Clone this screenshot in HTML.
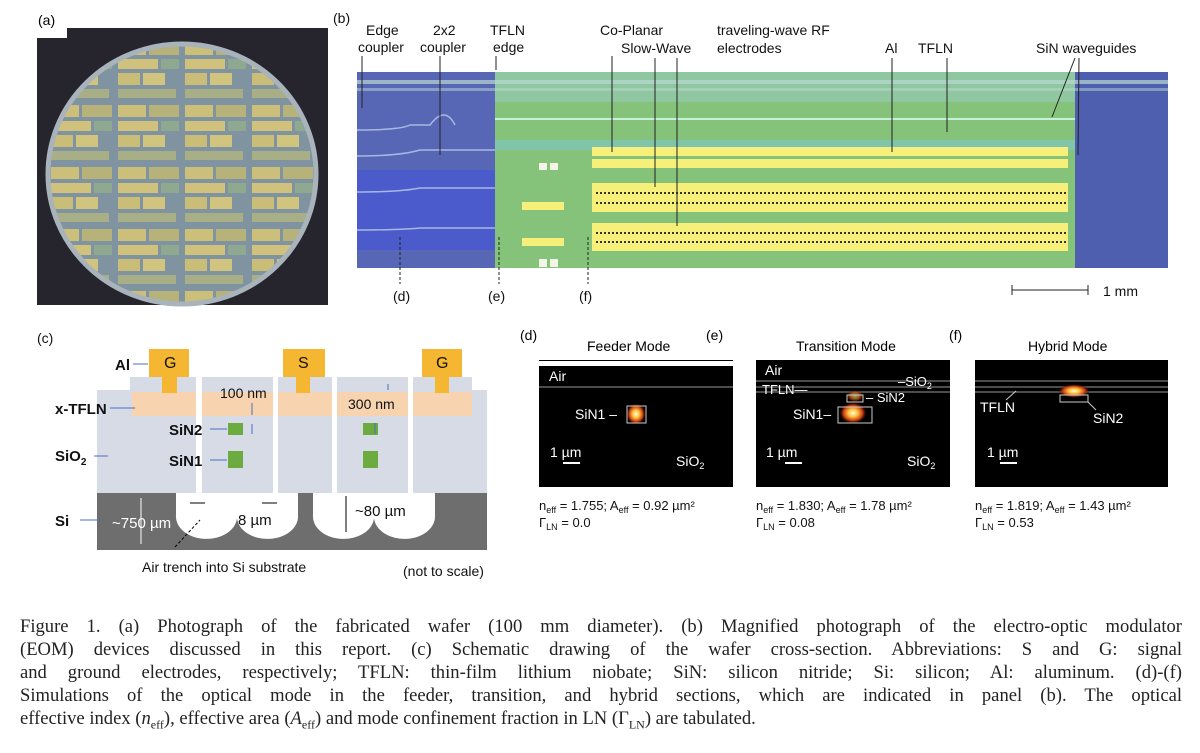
<!DOCTYPE html>
<html><head><meta charset="utf-8">
<style>
html,body{margin:0;padding:0;background:#fff;}
body{width:1200px;height:753px;overflow:hidden;position:relative;font-family:"Liberation Sans",sans-serif;}
svg{position:absolute;left:0;top:0;}
.cap{position:absolute;left:20px;width:1162px;font-family:"Liberation Serif",serif;font-size:18.6px;line-height:23px;color:#222;}
.j{text-align:justify;text-align-last:justify;white-space:nowrap;}
</style></head><body>
<svg width="1200" height="753" viewBox="0 0 1200 753">
<defs>
<pattern id="chips" x="48" y="40" width="67" height="62" patternUnits="userSpaceOnUse">
<rect width="67" height="62" fill="#7f93a0"/>
<rect x="3" y="3" width="28" height="12" fill="#cbbf7a"/>
<rect x="34" y="3" width="30" height="12" fill="#b7b27a"/>
<rect x="3" y="19" width="40" height="10" fill="#d0c27c"/>
<rect x="46" y="19" width="18" height="10" fill="#8fa890"/>
<rect x="3" y="33" width="22" height="12" fill="#c9bd78"/>
<rect x="28" y="33" width="22" height="12" fill="#d1c47e"/>
<rect x="3" y="49" width="58" height="9" fill="#a8ae86"/>
</pattern>
<radialGradient id="glow"><stop offset="0" stop-color="#fffbe0"/><stop offset="0.35" stop-color="#ffc23a"/><stop offset="0.7" stop-color="#c43a10"/><stop offset="1" stop-color="#1a0000" stop-opacity="0"/></radialGradient>
</defs>

<g>
<text x="38" y="25" font-size="14">(a)</text>
<rect x="37" y="28" width="291" height="277" fill="#26252e"/>
<rect x="37" y="28" width="30" height="10" fill="#fff"/>
<ellipse cx="182" cy="174" rx="134" ry="130" fill="url(#chips)" stroke="#a9b3bb" stroke-width="5"/>
</g>

<g font-size="14" fill="#111">
<text x="333" y="23">(b)</text>
<rect x="357" y="72" width="811" height="196" fill="#4a5ea8"/>
<rect x="357" y="72" width="138" height="196" fill="#5866b6"/>
<rect x="357" y="170" width="138" height="80" fill="#3f4fe0" opacity="0.5"/>
<rect x="495" y="72" width="580" height="196" fill="#86c37a"/>
<rect x="495" y="72" width="580" height="30" fill="#8fc8a0"/>
<rect x="495" y="140" width="580" height="10" fill="#7dc6c8" opacity="0.6"/>
<rect x="1075" y="72" width="93" height="196" fill="#4f5fb0"/>
<rect x="357" y="80" width="811" height="4" fill="#b9d7d2" opacity="0.7"/>
<rect x="357" y="88" width="811" height="3" fill="#b9d7d2" opacity="0.5"/>
<rect x="495" y="118" width="580" height="2" fill="#c8f0d8"/>
<g fill="#f6f07a">
<rect x="592" y="147" width="476" height="9"/>
<rect x="592" y="159" width="476" height="9"/>
<rect x="592" y="183" width="476" height="29"/>
<rect x="592" y="223" width="476" height="28"/>
<rect x="522" y="202" width="42" height="8"/>
<rect x="522" y="238" width="42" height="8"/>
</g>
<g stroke="#333" stroke-width="2" stroke-dasharray="2 2">
<line x1="596" y1="193" x2="1066" y2="193"/><line x1="596" y1="203" x2="1066" y2="203"/>
<line x1="596" y1="233" x2="1066" y2="233"/><line x1="596" y1="242" x2="1066" y2="242"/>
</g>
<rect x="539" y="163" width="8" height="7" fill="#f4f4e8"/><rect x="550" y="163" width="8" height="7" fill="#f4f4e8"/>
<rect x="539" y="259" width="8" height="8" fill="#f4f4e8"/><rect x="550" y="259" width="8" height="8" fill="#f4f4e8"/>
<g fill="none" stroke="#a8b8e0" stroke-width="1.5">
<path d="M357 130 Q400 130 410 125 L430 125 Q445 105 455 125"/>
<path d="M357 156 Q400 156 420 150 L495 150"/>
<path d="M357 192 Q400 192 420 188 L495 188"/>
<path d="M357 230 Q400 230 420 228 L495 228"/>
</g>
<text x="366" y="35">Edge</text><text x="358" y="52">coupler</text>
<text x="433" y="35">2x2</text><text x="420" y="52">coupler</text>
<text x="490" y="35">TFLN</text><text x="493" y="52">edge</text>
<text x="600" y="35">Co-Planar</text><text x="621" y="53">Slow-Wave</text>
<text x="717" y="35">traveling-wave RF</text><text x="717" y="53">electrodes</text>
<text x="885" y="53">Al</text><text x="918" y="53">TFLN</text><text x="1036" y="53">SiN waveguides</text>
<g stroke="#222" stroke-width="1">
<line x1="362" y1="56" x2="362" y2="108"/><line x1="440" y1="56" x2="440" y2="155"/>
<line x1="496" y1="56" x2="496" y2="70"/><line x1="612" y1="56" x2="612" y2="152"/>
<line x1="655" y1="58" x2="655" y2="187"/><line x1="677" y1="58" x2="677" y2="226"/>
<line x1="892" y1="58" x2="892" y2="152"/><line x1="947" y1="58" x2="947" y2="132"/>
<line x1="1075" y1="58" x2="1052" y2="117"/><line x1="1079" y1="58" x2="1078" y2="155"/>
<line x1="1012" y1="290" x2="1088" y2="290"/><line x1="1012" y1="285" x2="1012" y2="295"/><line x1="1088" y1="285" x2="1088" y2="295"/>
</g>
<g stroke="#222" stroke-width="1" stroke-dasharray="3 2">
<line x1="400" y1="237" x2="400" y2="284"/><line x1="499" y1="237" x2="499" y2="284"/><line x1="588" y1="237" x2="588" y2="284"/>
</g>
<text x="393" y="301">(d)</text><text x="488" y="301">(e)</text><text x="579" y="301">(f)</text>
<text x="1103" y="296">1 mm</text>
</g>

<g font-size="14" fill="#111">
<text x="37" y="343">(c)</text>
<g fill="#d6dbe5">
<rect x="97" y="390" width="99" height="103"/><rect x="130" y="377" width="66" height="20"/>
<rect x="202" y="377" width="71" height="116"/>
<rect x="278" y="377" width="54" height="116"/>
<rect x="337" y="377" width="71" height="116"/>
<rect x="413" y="377" width="59" height="116"/><rect x="472" y="390" width="15" height="103"/>
</g>
<g fill="#f8d3b0">
<rect x="132" y="392" width="64" height="24"/><rect x="202" y="392" width="71" height="24"/>
<rect x="278" y="392" width="54" height="24"/><rect x="337" y="392" width="71" height="24"/>
<rect x="413" y="392" width="59" height="24"/>
</g>
<g fill="#f5b731">
<rect x="149" y="349" width="40" height="28"/><rect x="162" y="377" width="15" height="16"/>
<rect x="283" y="349" width="42" height="28"/><rect x="296" y="377" width="14" height="16"/>
<rect x="422" y="349" width="40" height="28"/><rect x="435" y="377" width="14" height="16"/>
</g>
<g fill="#6cab3f">
<rect x="228" y="423" width="15" height="12"/><rect x="228" y="451" width="15" height="17"/>
<rect x="363" y="423" width="15" height="12"/><rect x="363" y="451" width="15" height="17"/>
</g>
<path d="M97 493 H176 V515 A30 22 0 0 0 237 518 A30 22 0 0 0 298 515 V493 H313 V515 A30 22 0 0 0 374 518 A30 22 0 0 0 435 515 V493 H487 V550 H97 Z" fill="#6e6e6e"/>
<text x="164" y="368" font-size="16">G</text><text x="298" y="368" font-size="16">S</text><text x="436" y="368" font-size="16">G</text>
<g font-weight="bold" font-size="15">
<text x="115" y="370">Al</text><text x="55" y="414">x-TFLN</text><text x="169" y="435">SiN2</text>
<text x="169" y="466">SiN1</text><text x="55" y="461">SiO<tspan font-size="10" dy="4">2</tspan></text><text x="55" y="526">Si</text>
</g>
<g stroke="#4a6fc8" stroke-width="1">
<line x1="133" y1="364" x2="148" y2="364"/><line x1="110" y1="408" x2="135" y2="408"/>
<line x1="210" y1="429" x2="227" y2="429"/><line x1="210" y1="460" x2="227" y2="460"/>
<line x1="94" y1="456" x2="108" y2="456"/><line x1="80" y1="520" x2="100" y2="520"/>
<line x1="252" y1="403" x2="252" y2="415"/><line x1="252" y1="424" x2="252" y2="434"/>
<line x1="388" y1="384" x2="388" y2="390"/><line x1="375" y1="423" x2="375" y2="434"/>
</g>
<text x="220" y="398">100 nm</text><text x="348" y="409">300 nm</text>
<g stroke="#000" stroke-width="1"><line x1="190" y1="503" x2="205" y2="503"/><line x1="262" y1="503" x2="277" y2="503"/>
<line x1="346" y1="496" x2="346" y2="532"/><line x1="141" y1="498" x2="141" y2="544" stroke="#fff"/></g>
<text x="112" y="528" fill="#fff" font-size="15">~750 µm</text>
<text x="238" y="525" font-size="15">8 µm</text><text x="355" y="516" font-size="15">~80 µm</text>
<line x1="175" y1="547" x2="200" y2="520" stroke="#000" stroke-dasharray="3 2"/>
<text x="142" y="572" font-size="14">Air trench into Si substrate</text>
<text x="403" y="576" font-size="14">(not to scale)</text>
</g>

<g font-size="14">
<text x="520" y="340">(d)</text><text x="706" y="340">(e)</text><text x="949" y="340">(f)</text>
<text x="587" y="351">Feeder Mode</text><text x="796" y="351">Transition Mode</text><text x="1028" y="351">Hybrid Mode</text>
<g>
<rect x="539" y="360" width="194" height="127" fill="#000"/>
<rect x="539" y="361" width="194" height="5" fill="#fff"/>
<line x1="539" y1="387" x2="733" y2="387" stroke="#999"/>
<ellipse cx="636" cy="414" rx="10" ry="11" fill="url(#glow)"/>
<rect x="627" y="406" width="19" height="17" fill="none" stroke="#ccc"/>
<g fill="#fff"><text x="549" y="381">Air</text><text x="575" y="419">SiN1 –</text>
<text x="550" y="457">1 µm</text><rect x="563" y="462" width="17" height="2"/><text x="676" y="466">SiO<tspan font-size="9" dy="3">2</tspan></text></g>
</g>
<g>
<rect x="756" y="360" width="194" height="127" fill="#000"/>
<g stroke="#999"><line x1="756" y1="381" x2="950" y2="381"/><line x1="756" y1="387" x2="950" y2="387"/><line x1="756" y1="392" x2="950" y2="392"/></g>
<ellipse cx="853" cy="413" rx="14" ry="11" fill="url(#glow)"/>
<ellipse cx="855" cy="396" rx="9" ry="6" fill="url(#glow)" opacity="0.6"/>
<rect x="847" y="395" width="16" height="7" fill="none" stroke="#ccc"/>
<rect x="838" y="407" width="34" height="16" fill="none" stroke="#ccc"/>
<g fill="#fff" font-size="13"><text x="765" y="375" font-size="14">Air</text><text x="762" y="394">TFLN—</text><text x="898" y="386">–SiO<tspan font-size="9" dy="3">2</tspan></text>
<text x="866" y="402">– SiN2</text><text x="793" y="419" font-size="14">SiN1–</text>
<text x="766" y="457" font-size="14">1 µm</text><rect x="785" y="462" width="17" height="2"/><text x="907" y="466" font-size="14">SiO<tspan font-size="9" dy="3">2</tspan></text></g>
</g>
<g>
<rect x="975" y="360" width="193" height="127" fill="#000"/>
<g stroke="#999"><line x1="975" y1="381" x2="1168" y2="381"/><line x1="975" y1="387" x2="1168" y2="387"/><line x1="975" y1="392" x2="1168" y2="392"/></g>
<ellipse cx="1074" cy="391" rx="16" ry="7" fill="url(#glow)"/>
<rect x="1060" y="395" width="28" height="7" fill="none" stroke="#ccc"/>
<g stroke="#ccc"><line x1="1006" y1="400" x2="1016" y2="391"/><line x1="1088" y1="402" x2="1096" y2="410"/></g>
<g fill="#fff" font-size="14"><text x="980" y="412">TFLN</text><text x="1093" y="423">SiN2</text>
<text x="987" y="457">1 µm</text><rect x="1000" y="462" width="17" height="2"/></g>
</g>
<g fill="#111" font-size="13">
<text x="539" y="510">n<tspan font-size="9" dy="3">eff</tspan><tspan dy="-3"> = 1.755; A</tspan><tspan font-size="9" dy="3">eff</tspan><tspan dy="-3"> = 0.92 µm²</tspan></text>
<text x="539" y="527">Γ<tspan font-size="9" dy="3">LN</tspan><tspan dy="-3"> = 0.0</tspan></text>
<text x="756" y="510">n<tspan font-size="9" dy="3">eff</tspan><tspan dy="-3"> = 1.830; A</tspan><tspan font-size="9" dy="3">eff</tspan><tspan dy="-3"> = 1.78 µm²</tspan></text>
<text x="756" y="527">Γ<tspan font-size="9" dy="3">LN</tspan><tspan dy="-3"> = 0.08</tspan></text>
<text x="975" y="510">n<tspan font-size="9" dy="3">eff</tspan><tspan dy="-3"> = 1.819; A</tspan><tspan font-size="9" dy="3">eff</tspan><tspan dy="-3"> = 1.43 µm²</tspan></text>
<text x="975" y="527">Γ<tspan font-size="9" dy="3">LN</tspan><tspan dy="-3"> = 0.53</tspan></text>
</g>
</g>
</svg>

<div class="cap" style="top:615px">
<div class="j">Figure 1. (a) Photograph of the fabricated wafer (100 mm diameter). (b) Magnified photograph of the electro-optic modulator</div>
<div class="j">(EOM) devices discussed in this report. (c) Schematic drawing of the wafer cross-section. Abbreviations: S and G: signal</div>
<div class="j">and ground electrodes, respectively; TFLN: thin-film lithium niobate; SiN: silicon nitride; Si: silicon; Al: aluminum. (d)-(f)</div>
<div class="j">Simulations of the optical mode in the feeder, transition, and hybrid sections, which are indicated in panel (b). The optical</div>
<div style="white-space:nowrap">effective index (<i>n</i><sub style="font-size:12px">eff</sub>), effective area (<i>A</i><sub style="font-size:12px">eff</sub>) and mode confinement fraction in LN (Γ<sub style="font-size:12px">LN</sub>) are tabulated.</div>
</div>
</body></html>
